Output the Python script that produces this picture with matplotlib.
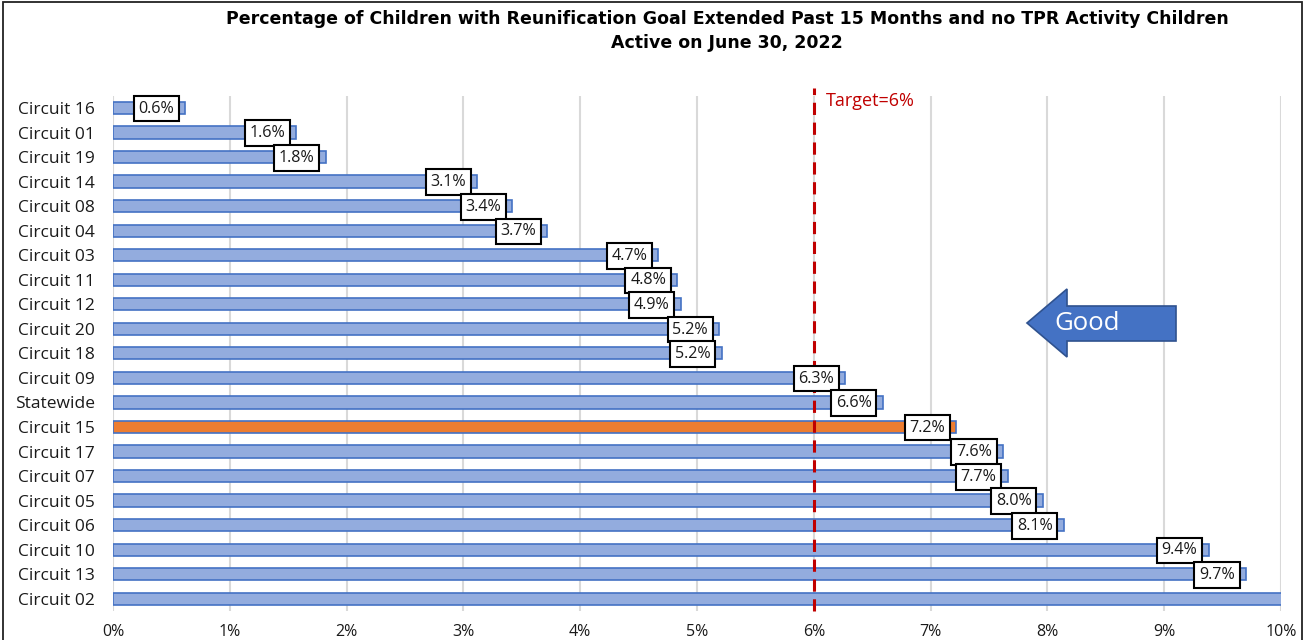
import matplotlib
matplotlib.use("Agg")
import matplotlib.pyplot as plt
from matplotlib.patches import Polygon, Rectangle
from matplotlib.ticker import FuncFormatter

plt.rcParams['font.family'] = ['Open Sans', 'DejaVu Sans']

circuits = ["Circuit 16", "Circuit 01", "Circuit 19", "Circuit 14", "Circuit 08",
            "Circuit 04", "Circuit 03", "Circuit 11", "Circuit 12", "Circuit 20",
            "Circuit 18", "Circuit 09", "Statewide", "Circuit 15", "Circuit 17",
            "Circuit 07", "Circuit 05", "Circuit 06", "Circuit 10", "Circuit 13",
            "Circuit 02"]
pct = [0.62, 1.57, 1.82, 3.12, 3.42, 3.72, 4.67, 4.83, 4.86, 5.19, 5.21,
       6.27, 6.59, 7.22, 7.62, 7.66, 7.96, 8.14, 9.38, 9.70, 10.9]
highlight = "Circuit 15"
target = 6.0
x_ticks = list(range(0, 11))

title = ("Percentage of Children with Reunification Goal Extended Past 15 Months and no TPR Activity Children\n"
         "Active on June 30, 2022")

W, H = 1307, 640
fig = plt.figure(figsize=(W / 100, H / 100), dpi=100)
ax = fig.add_axes([113 / W, 1 - 611 / H, (1281 - 113) / W, (611 - 95.7) / H])

blue_fill = "#93ACDE"
blue_edge = "#4472C4"
orange = "#ED7D31"

y = list(range(len(circuits)))
colors = [orange if c == highlight else blue_fill for c in circuits]
ax.barh(y, pct, height=0.5, color=colors, edgecolor=blue_edge, linewidth=1.2, zorder=3)

ax.set_xlim(0, 10)
ax.set_ylim(len(circuits) - 0.5, -0.5)
ax.set_yticks(y)
ax.set_yticklabels(circuits, fontsize=12.5, color="#1a1a1a")
ax.set_xticks(x_ticks)
ax.xaxis.set_major_formatter(FuncFormatter(lambda v, p: f"{v:.0f}%"))
ax.tick_params(axis='x', labelsize=11.5, colors="#1a1a1a", length=0, pad=9)
ax.tick_params(axis='y', length=0, pad=13)

ax.grid(axis='x', color="#D9D9D9", linewidth=1.5, zorder=0)
for s in ax.spines.values():
    s.set_visible(False)

# value labels in white boxes at bar ends
for yi, v in zip(y, pct):
    if v <= 10:
        ax.annotate(f"{v:.1f}%", xy=(v, yi), xytext=(-8, -0.5), textcoords="offset points",
                    ha="right", va="center", fontsize=11.6, color="#1a1a1a", zorder=5,
                    bbox=dict(boxstyle="square,pad=0.3", fc="white", ec="black", lw=1.5))

# target line
ax.axvline(target, color="#C00000", linestyle=(0, (4, 2.5)), linewidth=2.2, zorder=4,
           ymin=0, ymax=1.015, clip_on=False)
ax.annotate(f"Target={target:.0f}%", xy=(target, -0.3), xytext=(9, 0), textcoords="offset points",
            color="#C00000", fontsize=13, ha="left", va="center", annotation_clip=False)

# "Good" arrow
pts = [(1027, 323), (1067, 289), (1067, 306), (1176, 306), (1176, 341), (1067, 341), (1067, 357)]
poly = Polygon([(px / W, 1 - py / H) for px, py in pts], closed=True, transform=fig.transFigure,
               fc="#4472C4", ec="#2F528F", lw=1.2, zorder=6)
fig.patches.append(poly)
fig.text(1087 / W, 1 - 324 / H, "Good", color="white", fontsize=18.5, ha="center", va="center", zorder=7)

fig.text(727 / W, 1 - 31 / H, title, ha="center", va="center", fontsize=12.55, fontweight="bold",
         linespacing=1.4, color="black", family=["DejaVu Sans"])

fig.patches.append(Rectangle((3 / W, -0.01), (1302 - 3) / W, 1 - 2 / H + 0.01, transform=fig.transFigure,
                             fill=False, ec="#222222", lw=1.3))

fig.savefig("out.png", dpi=100)
